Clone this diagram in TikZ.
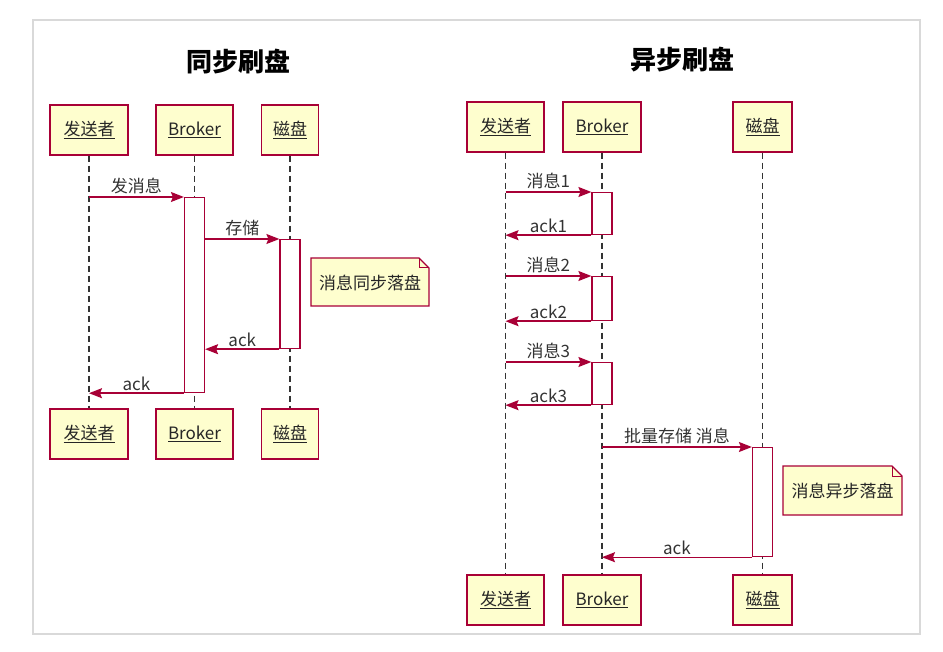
\documentclass[tikz,border=0pt]{standalone}
\usepackage{fontspec}
\setmainfont{Noto Sans CJK SC}
\usetikzlibrary{arrows.meta}
\definecolor{umlred}{HTML}{A80036}
\definecolor{umlfill}{HTML}{FEFECE}
\definecolor{framegray}{HTML}{D9D9D9}
\begin{document}
\begin{tikzpicture}[x=1pt,y=-1pt,
  party/.style={draw=umlred, fill=umlfill, line width=1.4pt, minimum height=50pt,
    inner sep=0pt, font=\fontsize{17}{17}\selectfont, text=black!85},
  act/.style={draw=umlred, fill=white, line width=1.2pt, minimum width=20pt,
    inner sep=0pt, anchor=north},
  life/.style={dash pattern=on 6pt off 4pt, line width=1.1pt, black!80},
  msg/.style={draw=umlred, line width=1.4pt, -{Stealth[length=13pt,width=10pt,inset=2pt]}},
  lbl/.style={font=\fontsize{17}{17}\selectfont, text=black!80, inner sep=2pt, above},
  notetext/.style={font=\fontsize{17}{17}\selectfont, text=black!85, inner sep=0pt},
  title/.style={font=\fontsize{26}{26}\selectfont\bfseries}
]
\useasboundingbox (0,0) rectangle (943,652);
\draw[framegray, line width=2pt] (33,20) rectangle (920,634);

% ---------- synchronous flush ----------
\node[title] (t1) at (238,62) {同步刷盘};

\node[party, minimum width=78pt] (s1) at (89,130) {\underline{发送者}};
\node[party, minimum width=77pt] (s2) at (194.5,130) {\underline{Broker}};
\node[party, minimum width=57pt] (s3) at (290,130) {\underline{磁盘}};
\node[party, minimum width=78pt] (s1b) at (89,434) {\underline{发送者}};
\node[party, minimum width=77pt] (s2b) at (194.5,434) {\underline{Broker}};
\node[party, minimum width=57pt] (s3b) at (290,434) {\underline{磁盘}};

\draw[life] (s1.south) -- (s1b.north);
\draw[life] (s2.south) -- (s2b.north);
\draw[life] (s3.south) -- (s3b.north);

\node[act, minimum height=195pt] (a1) at (194.5,197) {};
\node[act, minimum height=109pt] (a2) at (290,239) {};

\coordinate (sfrom) at (s1.south |- a1.north);
\coordinate (sback) at (s1.south |- a1.south);
\coordinate (a1st) at (a1.east |- a2.north);
\coordinate (a1ack) at (a1.east |- a2.south);

\draw[msg] (sfrom) -- node[lbl] {发消息} (a1.north west);
\draw[msg] (a1st) -- node[lbl] {存储} (a2.north west);
\draw[msg] (a2.south west) -- node[lbl] {ack} (a1ack);
\draw[msg] (a1.south west) -- node[lbl] {ack} (sback);

% note with folded corner
\coordinate (n1nw) at (311,258);
\coordinate (n1se) at (429,306);
\filldraw[fill=umlfill, draw=umlred, line width=1.2pt]
  (n1nw) -- ([xshift=-10pt]n1nw -| n1se) -- ([yshift=-10pt]n1nw -| n1se)
  -- (n1se) -- (n1nw |- n1se) -- cycle;
\draw[umlred, line width=1pt]
  ([xshift=-10pt]n1nw -| n1se) -- ([xshift=-10pt,yshift=-10pt]n1nw -| n1se)
  -- ([yshift=-10pt]n1nw -| n1se);
\node[notetext] (n1) at (370,283) {消息同步落盘};

% ---------- asynchronous flush ----------
\node[title] (t2) at (682,60) {异步刷盘};

\node[party, minimum width=77pt] (r1) at (505.5,127) {\underline{发送者}};
\node[party, minimum width=78pt] (r2) at (602,127) {\underline{Broker}};
\node[party, minimum width=59pt] (r3) at (762.5,127) {\underline{磁盘}};
\node[party, minimum width=77pt] (r1b) at (505.5,600) {\underline{发送者}};
\node[party, minimum width=78pt] (r2b) at (602,600) {\underline{Broker}};
\node[party, minimum width=59pt] (r3b) at (762.5,600) {\underline{磁盘}};

\draw[life] (r1.south) -- (r1b.north);
\draw[life] (r2.south) -- (r2b.north);
\draw[life] (r3.south) -- (r3b.north);

\node[act, minimum height=42pt] (b1) at (602,192) {};
\node[act, minimum height=44pt] (b2) at (602,276) {};
\node[act, minimum height=42pt] (b3) at (602,362) {};
\node[act, minimum height=109pt] (b4) at (762.5,447) {};

\coordinate (r1m1) at (r1.south |- b1.north);
\coordinate (r1k1) at (r1.south |- b1.south);
\coordinate (r1m2) at (r1.south |- b2.north);
\coordinate (r1k2) at (r1.south |- b2.south);
\coordinate (r1m3) at (r1.south |- b3.north);
\coordinate (r1k3) at (r1.south |- b3.south);
\coordinate (r2m4) at (r2.south |- b4.north);
\coordinate (r2k4) at (r2.south |- b4.south);

\draw[msg] (r1m1) -- node[lbl] {消息1} (b1.north west);
\draw[msg] (b1.south west) -- node[lbl] {ack1} (r1k1);
\draw[msg] (r1m2) -- node[lbl] {消息2} (b2.north west);
\draw[msg] (b2.south west) -- node[lbl] {ack2} (r1k2);
\draw[msg] (r1m3) -- node[lbl] {消息3} (b3.north west);
\draw[msg] (b3.south west) -- node[lbl] {ack3} (r1k3);
\draw[msg] (r2m4) -- node[lbl] {批量存储 消息} (b4.north west);
\draw[msg] (b4.south west) -- node[lbl] {ack} (r2k4);

\coordinate (n2nw) at (783,466);
\coordinate (n2se) at (902,515);
\filldraw[fill=umlfill, draw=umlred, line width=1.2pt]
  (n2nw) -- ([xshift=-10pt]n2nw -| n2se) -- ([yshift=-10pt]n2nw -| n2se)
  -- (n2se) -- (n2nw |- n2se) -- cycle;
\draw[umlred, line width=1pt]
  ([xshift=-10pt]n2nw -| n2se) -- ([xshift=-10pt,yshift=-10pt]n2nw -| n2se)
  -- ([yshift=-10pt]n2nw -| n2se);
\node[notetext] (n2) at (842.5,491) {消息异步落盘};
\end{tikzpicture}
\end{document}
